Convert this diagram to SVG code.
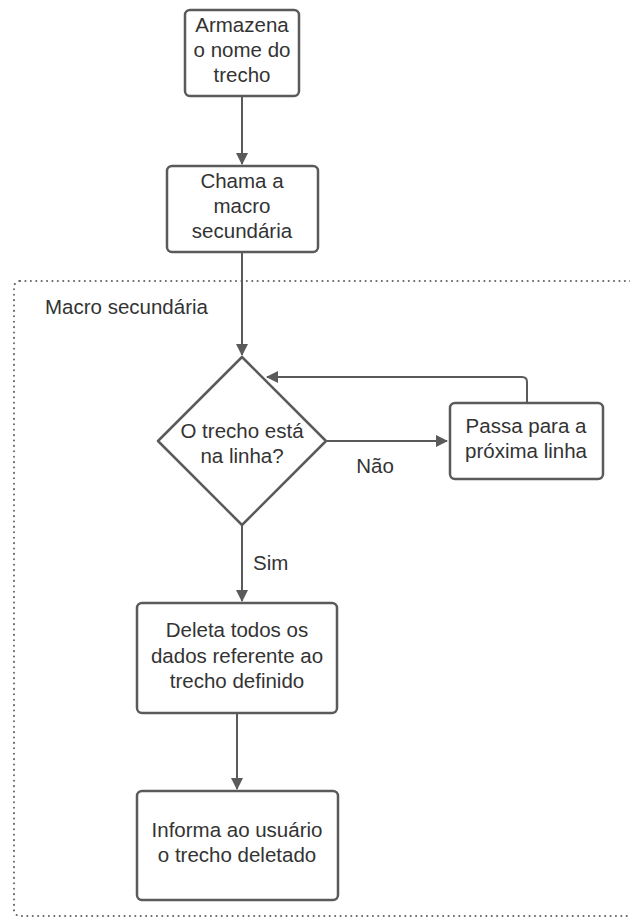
<svg xmlns="http://www.w3.org/2000/svg" width="630" height="920" viewBox="0 0 630 920">
<style>
.box{fill:#fff;stroke:#5a5a5a;stroke-width:2.5}
.ln{fill:none;stroke:#5a5a5a;stroke-width:2}
.t{font-family:"Liberation Sans",Arial,sans-serif;font-size:20.5px;fill:#333;text-anchor:middle}
.lbl{font-family:"Liberation Sans",Arial,sans-serif;font-size:20.5px;fill:#333}
.cont{fill:none;stroke:#666;stroke-width:2;stroke-dasharray:0.1 5.3;stroke-linecap:round}
</style>
<defs>
<marker id="ah" viewBox="0 0 12 12" refX="11" refY="6" markerWidth="12" markerHeight="12" markerUnits="userSpaceOnUse" orient="auto">
<path d="M0,0 L12,6 L0,12 Z" fill="#5a5a5a"/>
</marker>
</defs>
<rect width="630" height="920" fill="#fff"/>
<g id="container">
<rect class="cont" x="14" y="281" width="640" height="635" rx="6"/>
<text class="lbl" x="45" y="314">Macro secundária</text>
</g>
<g id="connectors">
<line class="ln" x1="242" y1="96" x2="242" y2="164" marker-end="url(#ah)"/>
<line class="ln" x1="242" y1="252" x2="242" y2="355" marker-end="url(#ah)"/>
<line class="ln" x1="326" y1="441" x2="447" y2="441" marker-end="url(#ah)"/>
<path class="ln" d="M527,403 L527,382 Q527,377 522,377 L267,377" marker-end="url(#ah)"/>
<line class="ln" x1="242" y1="525" x2="242" y2="601" marker-end="url(#ah)"/>
<line class="ln" x1="237" y1="713" x2="237" y2="789" marker-end="url(#ah)"/>
<text class="t" x="375" y="473">Não</text>
<text class="lbl" x="253" y="570">Sim</text>
</g>
<g id="n1">
<rect class="box" x="185" y="10" width="114" height="86" rx="5"/>
<text class="t" x="242" y="32">Armazena</text>
<text class="t" x="242" y="57">o nome do</text>
<text class="t" x="242" y="82">trecho</text>
</g>
<g id="n2">
<rect class="box" x="167" y="166" width="151" height="86" rx="5"/>
<text class="t" x="242" y="188">Chama a</text>
<text class="t" x="242" y="213">macro</text>
<text class="t" x="242" y="238">secundária</text>
</g>
<g id="n3">
<path class="box" d="M242,357 L326,441 L242,525 L158,441 Z" stroke-linejoin="round"/>
<text class="t" x="242" y="438">O trecho está</text>
<text class="t" x="242" y="463">na linha?</text>
</g>
<g id="n4">
<rect class="box" x="450" y="403" width="153" height="76" rx="5"/>
<text class="t" x="526" y="433">Passa para a</text>
<text class="t" x="526" y="458">próxima linha</text>
</g>
<g id="n5">
<rect class="box" x="137" y="603" width="200" height="110" rx="5"/>
<text class="t" x="237" y="637">Deleta todos os</text>
<text class="t" x="237" y="663">dados referente ao</text>
<text class="t" x="237" y="688">trecho definido</text>
</g>
<g id="n6">
<rect class="box" x="137" y="791" width="201" height="109" rx="5"/>
<text class="t" x="237" y="837">Informa ao usuário</text>
<text class="t" x="237" y="862">o trecho deletado</text>
</g>
</svg>
